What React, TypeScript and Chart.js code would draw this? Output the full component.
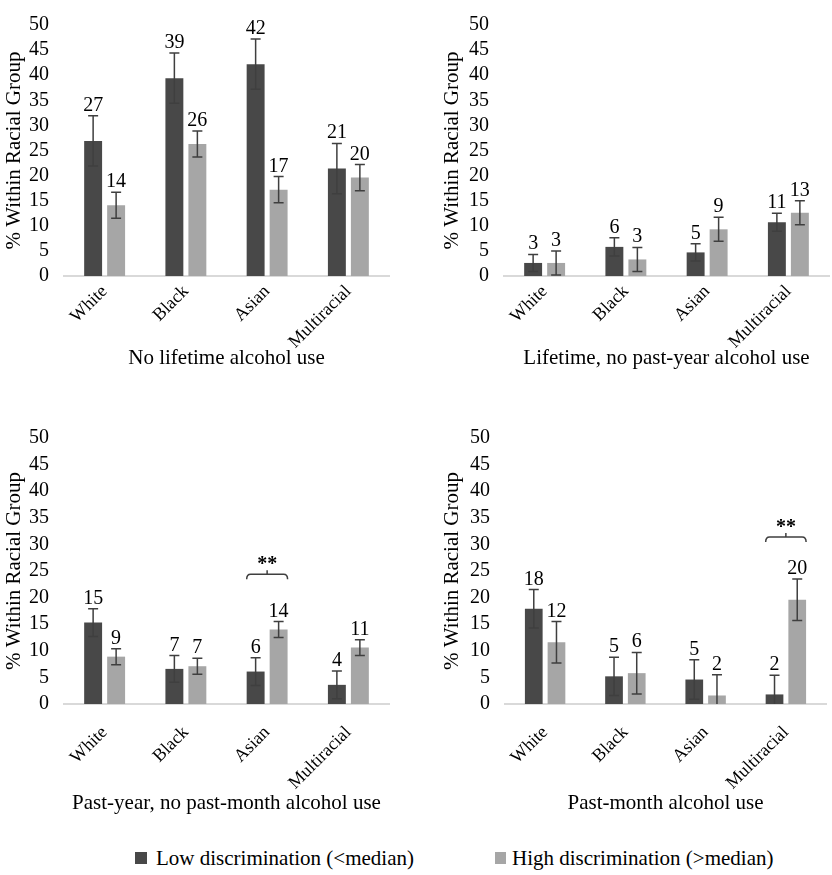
import React, { useEffect, useRef } from 'react';
import { Chart, registerables } from 'chart.js';

Chart.register(...registerables);

const FONT = "'Liberation Serif', 'Times New Roman', serif";

// ---- data ----
const categories = ['White', 'Black', 'Asian', 'Multiracial'];
const seriesNames = ['Low discrimination (<median)', 'High discrimination (>median)'];
const yTitle = '% Within Racial Group';
const yMin = 0;
const yMax = 50;
const yStep = 5;

const panelTitles = [
  'No lifetime alcohol use',
  'Lifetime, no past-year alcohol use',
  'Past-year, no past-month alcohol use',
  'Past-month alcohol use',
];

const noLifetimeLow = [26.9, 39.4, 42.2, 21.4];
const noLifetimeHigh = [14.1, 26.3, 17.2, 19.6];
const noLifetimeLowErr = [5.0, 5.0, 5.0, 5.0];
const noLifetimeHighErr = [2.6, 2.6, 2.6, 2.6];

const lifetimeLow = [2.6, 5.8, 4.7, 10.7];
const lifetimeHigh = [2.6, 3.3, 9.3, 12.6];
const lifetimeLowErr = [1.7, 1.8, 1.7, 1.8];
const lifetimeHighErr = [2.4, 2.4, 2.4, 2.4];

const pastYearLow = [15.3, 6.6, 6.1, 3.6];
const pastYearHigh = [8.9, 7.1, 14.0, 10.6];
const pastYearLowErr = [2.6, 2.5, 2.6, 2.6];
const pastYearHighErr = [1.5, 1.5, 1.5, 1.5];

const pastMonthLow = [17.9, 5.2, 4.6, 1.8];
const pastMonthHigh = [11.6, 5.8, 1.6, 19.6];
const pastMonthLowErr = [3.6, 3.6, 3.7, 3.6];
const pastMonthHighErr = [3.9, 3.9, 3.9, 3.9];

const sigMark = '**';
const pastYearSig = { category: 2, value: 24.4 };
const pastMonthSig = { category: 3, value: 31.4 };

// ---- styles ----
const LOW_COLOR = '#484848';
const HIGH_COLOR = '#a6a6a6';
const ERR_COLOR = '#3f3f3f';
const AXIS_COLOR = '#d9d9d9';

type Sig = { category: number; value: number } | null;

function makeAnnotPlugin(errors: number[][], sig: Sig) {
  return {
    id: 'annot',
    afterDatasetsDraw(chart: any) {
      const { ctx } = chart;
      const y = chart.scales.y;
      ctx.save();
      chart.data.datasets.forEach((ds: any, di: number) => {
        const meta = chart.getDatasetMeta(di);
        meta.data.forEach((bar: any, i: number) => {
          const v = ds.data[i] as number;
          const e = errors[di][i];
          const x = bar.x;
          const yTop = y.getPixelForValue(v + e);
          const yBot = y.getPixelForValue(Math.max(yMin, v - e));
          ctx.strokeStyle = ERR_COLOR;
          ctx.lineWidth = 1.5;
          ctx.beginPath();
          ctx.moveTo(x, yTop);
          ctx.lineTo(x, yBot);
          ctx.moveTo(x - 5, yTop);
          ctx.lineTo(x + 5, yTop);
          if (v - e > yMin) {
            ctx.moveTo(x - 5, yBot);
            ctx.lineTo(x + 5, yBot);
          }
          ctx.stroke();
          ctx.fillStyle = '#000';
          ctx.font = `20px ${FONT}`;
          ctx.textAlign = 'center';
          ctx.textBaseline = 'alphabetic';
          ctx.fillText(String(Math.round(v)), x, yTop - 5);
        });
      });
      if (sig) {
        const b0 = chart.getDatasetMeta(0).data[sig.category];
        const b1 = chart.getDatasetMeta(1).data[sig.category];
        const x0 = b0.x - b0.width / 2;
        const x1 = b1.x + b1.width / 2;
        const mid = (x0 + x1) / 2;
        const yy = y.getPixelForValue(sig.value);
        ctx.strokeStyle = ERR_COLOR;
        ctx.lineWidth = 1.5;
        ctx.beginPath();
        ctx.moveTo(x0, yy + 5);
        ctx.quadraticCurveTo(x0, yy, x0 + 4, yy);
        ctx.lineTo(x1 - 4, yy);
        ctx.quadraticCurveTo(x1, yy, x1, yy + 5);
        ctx.moveTo(mid, yy);
        ctx.lineTo(mid, yy - 4);
        ctx.stroke();
        ctx.fillStyle = '#000';
        ctx.font = `bold 20px ${FONT}`;
        ctx.textAlign = 'center';
        ctx.textBaseline = 'alphabetic';
        ctx.fillText(sigMark, mid, yy - 4);
      }
      ctx.restore();
    },
  };
}

type PanelCfg = {
  title: string;
  low: number[];
  high: number[];
  lowErr: number[];
  highErr: number[];
  sig: Sig;
  left: number;
  top: number;
  w: number;
  h: number;
  padLeft: number;
  padTop: number;
  padRight: number;
  yWidth: number;
  xHeight: number;
  tickPad: number;
};

const panels: PanelCfg[] = [
  {
    title: panelTitles[0], low: noLifetimeLow, high: noLifetimeHigh,
    lowErr: noLifetimeLowErr, highErr: noLifetimeHighErr, sig: null,
    left: 0, top: 0, w: 416, h: 371, padLeft: 0, padTop: 11, padRight: 27, yWidth: 64, xHeight: 95, tickPad: 5,
  },
  {
    title: panelTitles[1], low: lifetimeLow, high: lifetimeHigh,
    lowErr: lifetimeLowErr, highErr: lifetimeHighErr, sig: null,
    left: 416, top: 0, w: 416, h: 371, padLeft: 22, padTop: 11, padRight: 3, yWidth: 66, xHeight: 95, tickPad: 5,
  },
  {
    title: panelTitles[2], low: pastYearLow, high: pastYearHigh,
    lowErr: pastYearLowErr, highErr: pastYearHighErr, sig: pastYearSig,
    left: 0, top: 400, w: 416, h: 416, padLeft: 0, padTop: 38, padRight: 27, yWidth: 64, xHeight: 112, tickPad: 18,
  },
  {
    title: panelTitles[3], low: pastMonthLow, high: pastMonthHigh,
    lowErr: pastMonthLowErr, highErr: pastMonthHighErr, sig: pastMonthSig,
    left: 416, top: 400, w: 416, h: 416, padLeft: 22, padTop: 38, padRight: 6, yWidth: 67, xHeight: 112, tickPad: 18,
  },
];

function Panel({ cfg }: { cfg: PanelCfg }) {
  const ref = useRef<HTMLCanvasElement | null>(null);
  useEffect(() => {
    if (!ref.current) return;
    const chart = new Chart(ref.current, {
      type: 'bar',
      data: {
        labels: categories,
        datasets: [
          {
            label: seriesNames[0],
            data: cfg.low,
            backgroundColor: LOW_COLOR,
            borderWidth: 0,
            categoryPercentage: 0.566,
            barPercentage: 0.78,
          },
          {
            label: seriesNames[1],
            data: cfg.high,
            backgroundColor: HIGH_COLOR,
            borderWidth: 0,
            categoryPercentage: 0.566,
            barPercentage: 0.78,
          },
        ],
      },
      options: {
        animation: false,
        responsive: false,
        devicePixelRatio: 1,
        layout: { padding: { left: cfg.padLeft, top: cfg.padTop, right: cfg.padRight, bottom: 0 } },
        plugins: {
          legend: { display: false },
          tooltip: { enabled: false },
          title: { display: false },
        },
        scales: {
          x: {
            grid: { display: false, drawTicks: false },
            border: { display: true, color: AXIS_COLOR, width: 2 },
            ticks: {
              color: '#000',
              font: { family: FONT, size: 18 },
              minRotation: 45,
              maxRotation: 45,
              autoSkip: false,
              padding: cfg.tickPad,
            },
            title: {
              display: true,
              text: cfg.title,
              color: '#000',
              font: { family: FONT, size: 21 },
              padding: { top: 0, bottom: 0 },
            },
            afterFit: (s: any) => {
              s.height = cfg.xHeight;
            },
          },
          y: {
            min: yMin,
            max: yMax,
            grid: { display: false, drawTicks: false },
            border: { display: false },
            ticks: {
              stepSize: yStep,
              color: '#000',
              font: { family: FONT, size: 20, lineHeight: 1 },
              padding: 15,
            },
            title: {
              display: true,
              text: yTitle,
              color: '#000',
              font: { family: FONT, size: 21 },
              padding: { top: 2, bottom: 0 },
            },
            afterFit: (s: any) => {
              s.width = cfg.yWidth;
            },
          },
        },
      } as any,
      plugins: [makeAnnotPlugin([cfg.lowErr, cfg.highErr], cfg.sig)],
    });
    return () => chart.destroy();
  }, [cfg]);
  return (
    <div style={{ position: 'absolute', left: cfg.left, top: cfg.top, width: cfg.w, height: cfg.h }}>
      <canvas ref={ref} width={cfg.w} height={cfg.h} />
    </div>
  );
}

export default function App() {
  const legendText: React.CSSProperties = {
    position: 'absolute',
    fontFamily: FONT,
    fontSize: 21,
    lineHeight: '24px',
    color: '#000',
    whiteSpace: 'nowrap',
  };
  return (
    <div
      style={{
        position: 'absolute',
        left: 0,
        top: 0,
        width: 832,
        height: 875,
        background: '#fff',
        overflow: 'hidden',
      }}
    >
      {panels.map((p, i) => (
        <Panel key={i} cfg={p} />
      ))}
      <div style={{ position: 'absolute', left: 135, top: 852, width: 12, height: 12, background: LOW_COLOR }} />
      <div style={{ ...legendText, left: 156, top: 846 }}>{seriesNames[0]}</div>
      <div style={{ position: 'absolute', left: 495, top: 852, width: 11, height: 12, background: HIGH_COLOR }} />
      <div style={{ ...legendText, left: 512, top: 846 }}>{seriesNames[1]}</div>
    </div>
  );
}
